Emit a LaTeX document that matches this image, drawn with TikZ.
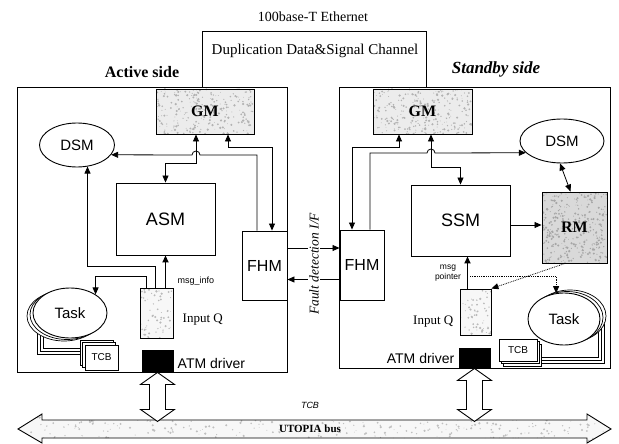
\documentclass[tikz,border=0pt]{standalone}
\usepackage{fontspec}
\setmainfont{Liberation Serif}
\setsansfont{Liberation Sans}
\usetikzlibrary{arrows.meta,calc,shapes.geometric}
\newcommand{\fs}[1]{\fontsize{#1}{#1}\selectfont}
\pgfmathsetseed{7}
\begin{document}
\begin{tikzpicture}[x=1pt,y=-1pt,line width=0.8pt,
  >={Triangle[length=7pt,width=6pt]},
  blk/.style={draw,line width=0.9pt,rectangle,inner sep=0pt,align=center},
  ell/.style={draw,line width=0.9pt,ellipse,inner sep=0pt,fill=white},
  txtsf/.style={font=\sffamily\fs{#1}},
  txtrm/.style={font=\rmfamily\fs{#1}},
  speckled/.style n args={3}{fill=#1, path picture={\foreach \i in {1,...,#3}{\fill[#2] let \p1=(path picture bounding box.south west), \p2=(path picture bounding box.north east) in ({\x1+rnd*(\x2-\x1)},{\y1+rnd*(\y2-\y1)}) circle[radius={(0.35+0.9*rnd)*1pt}];}}},
  stack/.style={draw,line width=0.7pt,fill=white}
]
\useasboundingbox (0,0) rectangle (619,444);

% frames
\draw[line width=1pt] (17,88) rectangle (287,372);
\draw[line width=1pt] (339,88) rectangle (610,368);
\draw[line width=1pt] (202,88) -- (202,32) -- (426,32) -- (426,88);

% titles
\node[txtrm=14] (eth) at (313,17) {100base-T Ethernet};
\node[txtrm=15] (dup) at (315,51) {Duplication Data\&Signal Channel};
\node[font=\rmfamily\bfseries\fs{16}] (act) at (142,72) {Active side};
\node[font=\rmfamily\bfseries\itshape\fs{17}] (stb) at (496,69) {Standby side};

% bus
\path[draw,line width=0.9pt,speckled={gray!6}{gray!50}{380}] (18,429) -- (42,414) -- (42,420) -- (587,420) -- (587,414) -- (611,429) -- (587,443) -- (587,438) -- (42,438) -- (42,443) -- cycle;
\node[font=\rmfamily\bfseries\fs{11}] (bus) at (310,429) {UTOPIA bus};
\node[font=\sffamily\itshape\fs{9}] (tcbl) at (310,405) {TCB};

% main blocks
\node[blk,speckled={gray!15}{gray!60}{260},minimum width=98pt,minimum height=45pt,font=\rmfamily\bfseries\fs{16}] (gmA) at (205,111.5) {GM};
\node[blk,speckled={gray!15}{gray!60}{260},minimum width=99pt,minimum height=45pt,font=\rmfamily\bfseries\fs{16}] (gmS) at (422.5,111.5) {GM};
\node[ell,minimum width=75pt,minimum height=44pt,txtsf=15] (dsmA) at (77,145) {DSM};
\node[ell,minimum width=84pt,minimum height=44pt,txtsf=15] (dsmS) at (562,141) {DSM};
\node[blk,minimum width=99pt,minimum height=72pt,txtsf=18] (asm) at (165.5,219) {ASM};
\node[blk,minimum width=99pt,minimum height=71pt,txtsf=18] (ssm) at (460.5,220.5) {SSM};
\node[blk,speckled={gray!30}{gray!70}{330},minimum width=65pt,minimum height=71pt,font=\rmfamily\bfseries\fs{16}] (rmb) at (574.5,227.5) {RM};
\node[blk,fill=white,minimum width=45pt,minimum height=69pt,txtsf=16] (fhmA) at (264.5,265.5) {FHM};
\node[blk,fill=white,minimum width=44pt,minimum height=70pt,txtsf=16] (fhmS) at (362,265) {FHM};
\node[blk,speckled={gray!6}{gray!55}{60},minimum width=33pt,minimum height=50pt] (inqA) at (156.5,313) {};
\node[blk,speckled={gray!6}{gray!55}{60},minimum width=31pt,minimum height=46pt] (inqS) at (475.5,312) {};
\node[blk,fill=black,minimum width=31pt,minimum height=22pt] (atmA) at (157.5,361) {};
\node[blk,fill=black,minimum width=31pt,minimum height=20pt] (atmS) at (474.5,358) {};

% labels
\node[txtrm=13,anchor=west] (iqlA) at (179,320) {Input Q};
\node[txtrm=13,anchor=east] (iqlS) at (457,322) {Input Q};
\node[txtsf=14,anchor=west] (atlA) at (174,363) {ATM driver};
\node[txtsf=14,anchor=east] (atlS) at (458,358) {ATM driver};
\node[txtsf=9,anchor=west] (mi) at (174,281) {msg\_info};
\node[txtsf=8.5,align=center,inner sep=0pt] (mp) at (448,273) {msg\\[1pt]pointer};

% task / TCB stacks (active)
\draw[line width=0.7pt] (37,325) -- (37,354) -- (82,354);
\draw[line width=0.7pt] (40,327) -- (40,351) -- (82,351);
\draw[line width=0.7pt] (43,329) -- (43,348) -- (82,348);
\draw[stack] (64,316) ellipse[x radius=37,y radius=25];
\draw[stack] (67,314.5) ellipse[x radius=37,y radius=25];
\node[ell,minimum width=74pt,minimum height=50pt,txtsf=15] (taskA) at (70,313) {Task};
\draw[stack] (80,340) rectangle (113,365);
\draw[stack] (82.5,342.5) rectangle (115.5,367.5);
\node[blk,fill=white,minimum width=33pt,minimum height=25pt,txtsf=10] (tcbA) at (101.5,357.5) {TCB};

% task / TCB stacks (standby)
\draw[line width=0.7pt] (598,328) -- (598,357) -- (540,357);
\draw[line width=0.7pt] (601,326) -- (601,360) -- (540,360);
\draw[line width=0.7pt] (604,324) -- (604,363) -- (540,363);
\draw[stack] (570,316) ellipse[x radius=36,y radius=26];
\draw[stack] (567,317.5) ellipse[x radius=36,y radius=26];
\node[ell,minimum width=72pt,minimum height=52pt,txtsf=15] (taskS) at (564,319) {Task};
\draw[stack] (503,344) rectangle (541,366);
\draw[stack] (501,341.5) rectangle (539,363.5);
\node[blk,fill=white,minimum width=38pt,minimum height=22pt,txtsf=10] (tcbS) at (518,350) {TCB};

% active connectors
\draw[<->] ([xshift=-9pt]gmA.south) -- ++(0,29) -| (asm.north);
\draw[->] ([xshift=-7.5pt]fhmA.north) |- (200,155) arc[start angle=0,end angle=180,radius=4pt] -- (dsmA.-16.7);
\draw[<->] ([xshift=23pt]gmA.south) -- ++(0,13) -| ([xshift=7.5pt]fhmA.north);
\draw[->] ([xshift=-1.5pt]inqA.north) -- ++(0,-21) -| (dsmA.-64.7);
\draw[->,line width=1.6pt] (inqA.north -| asm.south) -- (asm.south);
\draw[->] ([xshift=-10.5pt]inqA.north) -- ++(0,-11) -| (taskA.36);

% fault detection
\draw[->] ([yshift=17.5pt]fhmA.east) -- ([yshift=17.5pt]fhmA.east -| fhmS.west);
\draw[->] ([yshift=-14.5pt]fhmS.west) -- ([yshift=-14.5pt]fhmS.west -| fhmA.east);
\node[rotate=90,fill=white,inner sep=1pt,font=\rmfamily\itshape\fs{13.5}] (fd) at (314,264) {Fault detection I/F};

% standby connectors
\draw[<->] ([xshift=-23.5pt]gmS.south) -- ++(0,13) -| ([xshift=-10pt]fhmS.north);
\draw[<->] ([xshift=8.5pt]gmS.south) -- ++(0,33) -| (ssm.north);
\draw[->] ([xshift=8pt]fhmS.north) |- (427,153) arc[start angle=180,end angle=0,radius=4pt] -- (dsmS.198.8);
\draw[->] ([yshift=-4.5pt]ssm.east) -- ([yshift=-4.5pt]ssm.east -| rmb.west);
\draw[<->] (dsmS.-95) -- ([xshift=-4pt]rmb.north);
\draw[->,line width=1.6pt] ([xshift=-8pt]inqS.north) -- ([xshift=-8pt]inqS.north |- ssm.south);
\draw[->,densely dotted] ([xshift=-9.5pt]rmb.south) -- (inqS.north east);
\draw[->,densely dotted] ([xshift=-5.5pt,yshift=12pt]inqS.north) -| (taskS.107.5);

% hollow arrows to bus
\begin{scope}[shift={(atmA.south)}]
\draw[fill=white,line width=0.9pt] (-8,12) -- (-17,12) -- (0,0) -- (17,12) -- (8,12) -- (8,37) -- (17,37) -- (0,49) -- (-17,37) -- (-8,37) -- cycle;
\end{scope}
\begin{scope}[shift={(atmS.south)}]
\draw[fill=white,line width=0.9pt] (-8,12) -- (-17,12) -- (0,0) -- (17,12) -- (8,12) -- (8,41) -- (17,41) -- (0,53) -- (-17,41) -- (-8,41) -- cycle;
\end{scope}
\end{tikzpicture}
\end{document}
